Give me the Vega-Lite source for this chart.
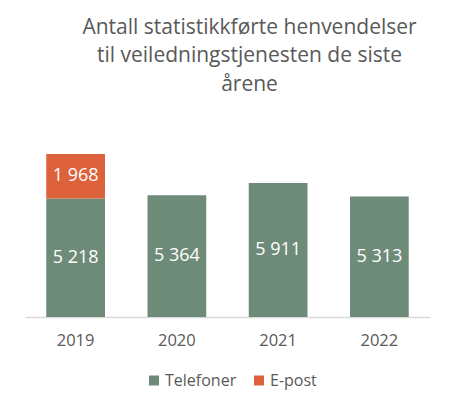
{
  "$schema": "https://vega.github.io/schema/vega-lite/v6.json",
  "width": 405,
  "height": 181.5,
  "autosize": "none",
  "padding": {"left": 25, "top": 135.5, "right": 25, "bottom": 94},
  "background": "white",
  "config": {
    "view": {"stroke": null},
    "font": "Open Sans"
  },
  "title": {
    "text": ["Antall statistikkførte henvendelser", "til veiledningstjenesten de siste", "årene"],
    "fontSize": 21,
    "fontWeight": "normal",
    "color": "#595959",
    "lineHeight": 28.5,
    "anchor": "middle",
    "frame": "group",
    "dx": 22,
    "offset": 41
  },
  "data": {
    "values": [
      {"year": "2019", "type": "Telefoner", "order": 1, "value": 5218, "label": "5 218"},
      {"year": "2019", "type": "E-post", "order": 2, "value": 1968, "label": "1 968"},
      {"year": "2020", "type": "Telefoner", "order": 1, "value": 5364, "label": "5 364"},
      {"year": "2021", "type": "Telefoner", "order": 1, "value": 5911, "label": "5 911"},
      {"year": "2022", "type": "Telefoner", "order": 1, "value": 5313, "label": "5 313"}
    ]
  },
  "transform": [
    {"stack": "value", "groupby": ["year"], "sort": [{"field": "order"}], "as": ["v0", "v1"]},
    {"calculate": "(datum.v0 + datum.v1) / 2", "as": "mid"}
  ],
  "encoding": {
    "x": {
      "field": "year",
      "type": "nominal",
      "scale": {"paddingInner": 0.42, "paddingOuter": 0.21},
      "axis": {
        "title": null,
        "labelAngle": 0,
        "labelFontSize": 16.5,
        "labelColor": "#595959",
        "labelPadding": 15,
        "ticks": false,
        "domainColor": "#d9d9d9",
        "domainWidth": 1.5
      }
    }
  },
  "layer": [
    {
      "mark": {"type": "bar"},
      "encoding": {
        "y": {"field": "v0", "type": "quantitative", "scale": {"domain": [0, 8000]}, "axis": null},
        "y2": {"field": "v1"},
        "color": {
          "field": "type",
          "type": "nominal",
          "scale": {"domain": ["Telefoner", "E-post"], "range": ["#6e8b7a", "#dd613a"]},
          "legend": {
            "title": null,
            "orient": "none",
            "direction": "horizontal",
            "legendX": 121,
            "legendY": 237,
            "symbolType": "square",
            "symbolSize": 100,
            "symbolOpacity": 1,
            "labelFontSize": 16,
            "labelColor": "#595959",
            "columnPadding": 14,
            "labelOffset": 3
          }
        }
      }
    },
    {
      "mark": {"type": "text", "color": "white", "fontSize": 18, "baseline": "middle"},
      "encoding": {
        "y": {"field": "mid", "type": "quantitative"},
        "text": {"field": "label"}
      }
    }
  ]
}
